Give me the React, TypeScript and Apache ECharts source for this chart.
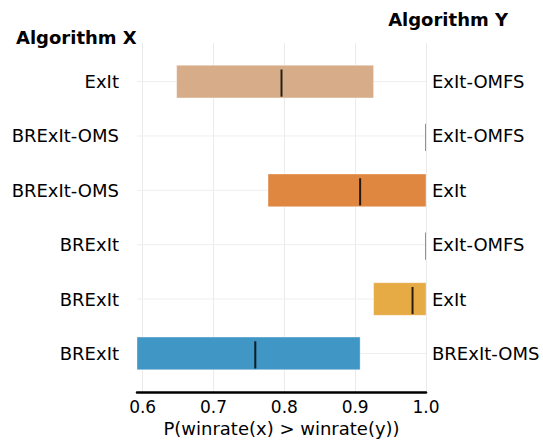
import React, { useEffect, useRef } from "react";
import * as echarts from "echarts";

const leftLabels = ["ExIt", "BRExIt-OMS", "BRExIt-OMS", "BRExIt", "BRExIt", "BRExIt"];
const rightLabels = ["ExIt-OMFS", "ExIt-OMFS", "ExIt", "ExIt-OMFS", "ExIt", "BRExIt-OMS"];
const lows = [0.648, 1.0, 0.777, 1.0, 0.926, 0.592];
const medians = [0.796, 1.0, 0.907, 1.0, 0.981, 0.759];
const highs = [0.926, 1.0, 1.0, 1.0, 1.0, 0.907];
const barColors = ["#d7ac88", "#999999", "#df8640", "#999999", "#e6ab44", "#4096c5"];
const xTicks = [0.6, 0.7, 0.8, 0.9, 1.0];
const rows = [0, 1, 2, 3, 4, 5];

const FONT = "DejaVu Sans";
const X_MIN = 0.592;
const X_MAX = 1.0;

export default function App() {
  const ref = useRef<HTMLDivElement>(null);
  useEffect(() => {
    if (!ref.current) return;
    document.body.style.margin = "0";
    const chart = echarts.init(ref.current, null, { renderer: "svg" });
    const data = rows.map((r) => [r, lows[r], medians[r], highs[r]]);
    const gridData = rows.map((r) => [r]);
    const yBase = {
      type: "value",
      min: -0.71,
      max: 5.71,
      inverse: true,
      axisLine: { show: false },
      splitLine: { show: false },
    };
    chart.setOption({
      animation: false,
      backgroundColor: "#ffffff",
      textStyle: { fontFamily: FONT },
      title: [
        {
          text: "Algorithm X",
          left: 16,
          top: 28,
          padding: 0,
          textStyle: { fontFamily: FONT, fontSize: 18, fontWeight: "bold", color: "#000" },
        },
        {
          text: "Algorithm Y",
          right: 35,
          top: 10,
          padding: 0,
          textStyle: { fontFamily: FONT, fontSize: 18, fontWeight: "bold", color: "#000" },
        },
      ],
      grid: { left: 137, right: 117, top: 43, bottom: 51, containLabel: false },
      xAxis: {
        type: "value",
        min: X_MIN,
        max: X_MAX,
        name: "P(winrate(x) > winrate(y))",
        nameLocation: "middle",
        nameGap: 27,
        nameTextStyle: { fontFamily: FONT, fontSize: 18, color: "#000", verticalAlign: "top" },
        axisLine: { show: true, onZero: false, lineStyle: { color: "#000", width: 2.5 } },
        axisTick: { show: false, customValues: xTicks },
        axisLabel: {
          customValues: xTicks,
          fontFamily: FONT,
          fontSize: 17,
          color: "#000",
          margin: 6,
          formatter: (v: number) => v.toFixed(1),
        },
        splitLine: { show: true, lineStyle: { color: "#ebebeb", width: 1 } },
      },
      yAxis: [
        {
          ...yBase,
          position: "left",
          axisTick: { show: false, customValues: rows },
          axisLabel: {
            customValues: rows,
            fontFamily: FONT,
            fontSize: 18,
            color: "#000",
            margin: 18,
            formatter: (v: number) => leftLabels[Math.round(v)] ?? "",
          },
        },
        {
          ...yBase,
          position: "right",
          axisTick: { show: false, customValues: rows },
          axisLabel: {
            customValues: rows,
            fontFamily: FONT,
            fontSize: 18,
            color: "#000",
            margin: 6,
            formatter: (v: number) => rightLabels[Math.round(v)] ?? "",
          },
        },
      ],
      series: [
        {
          type: "custom",
          xAxisIndex: 0,
          yAxisIndex: 0,
          silent: true,
          data: gridData,
          encode: { y: 0 },
          renderItem: (params: any, api: any) => {
            const row = api.value(0);
            const a = api.coord([X_MIN, row]);
            const b = api.coord([X_MAX, row]);
            return {
              type: "line",
              shape: { x1: a[0], y1: a[1], x2: b[0], y2: b[1] },
              style: { stroke: "#eeeeee", lineWidth: 1 },
            };
          },
        },
        {
          type: "custom",
          clip: true,
          xAxisIndex: 0,
          yAxisIndex: 0,
          data,
          encode: { x: [1, 2, 3], y: 0 },
          renderItem: (params: any, api: any) => {
            const row = api.value(0);
            const lo = api.value(1);
            const med = api.value(2);
            const hi = api.value(3);
            const p0 = api.coord([lo, row]);
            const p1 = api.coord([hi, row]);
            const pm = api.coord([med, row]);
            const h = api.size([0, 0.6])[1];
            const hm = api.size([0, 0.5])[1];
            const children: any[] = [];
            const hasBar = p1[0] - p0[0] > 0.5;
            if (hasBar) {
              children.push({
                type: "rect",
                shape: { x: p0[0], y: p0[1] - h / 2, width: p1[0] - p0[0], height: h },
                style: { fill: barColors[row], stroke: "rgba(255,255,255,0.35)", lineWidth: 1 },
              });
            }
            children.push({
              type: "line",
              shape: { x1: pm[0], y1: pm[1] - hm / 2 + 1.5, x2: pm[0], y2: pm[1] + hm / 2 + 1.5 },
              style: {
                stroke: hasBar ? "rgba(0,0,0,0.82)" : "#6e6e6e",
                lineWidth: hasBar ? 2 : 1.5,
              },
            });
            return { type: "group", children };
          },
        },
      ],
    });
    return () => chart.dispose();
  }, []);
  return <div ref={ref} style={{ width: 543, height: 443 }} />;
}
